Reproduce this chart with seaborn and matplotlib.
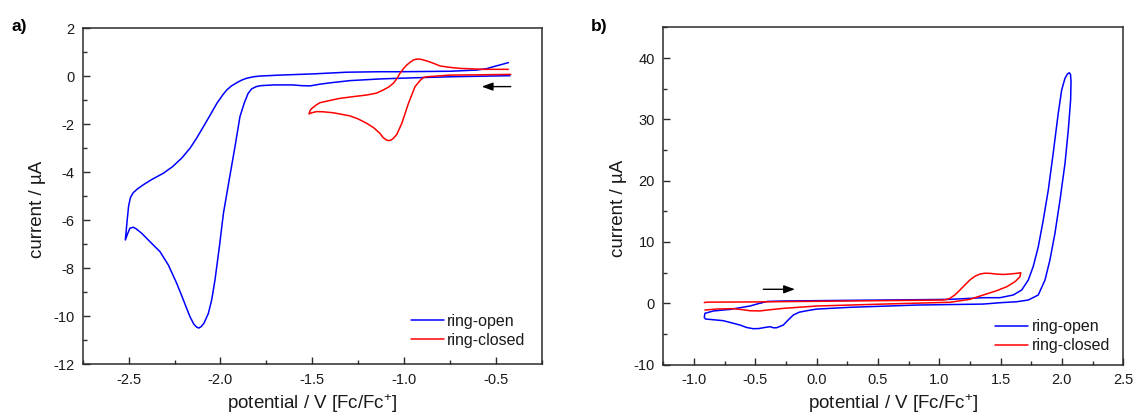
import numpy as np
import pandas as pd
import matplotlib
matplotlib.use("Agg")
import matplotlib.pyplot as plt
from matplotlib.ticker import MultipleLocator, FormatStrFormatter
import seaborn as sns

# ---------------- data: panel a ----------------
a_open_x = [-0.424, -0.60, -0.75, -1.02, -1.13, -1.295, -1.40, -1.46, -1.512, -1.56, -1.604, -1.712,
            -1.78, -1.805, -1.83, -1.85, -1.87, -1.894, -1.921, -1.95, -1.968, -1.984, -2.006, -2.03,
            -2.048, -2.066, -2.09, -2.105, -2.118, -2.13, -2.145, -2.166, -2.202, -2.238, -2.284,
            -2.329, -2.384, -2.429, -2.46, -2.475, -2.493, -2.505, -2.518, -2.514, -2.508, -2.50,
            -2.49, -2.475, -2.45, -2.42, -2.374, -2.311, -2.26, -2.21, -2.166, -2.13, -2.093, -2.055,
            -2.02, -1.99, -1.966, -1.94, -1.912, -1.885, -1.857, -1.82, -1.785, -1.676, -1.495,
            -1.313, -1.132, -1.023, -0.75, -0.605, -0.55, -0.515, -0.475, -0.433]
a_open_y = [0.025, 0.0, -0.02, -0.08, -0.11, -0.18, -0.27, -0.33, -0.40, -0.39, -0.36, -0.36,
            -0.39, -0.43, -0.52, -0.72, -1.10, -1.68, -2.93, -4.2, -5.0, -5.71, -7.1, -8.49,
            -9.32, -9.88, -10.29, -10.43, -10.49, -10.45, -10.33, -10.02, -9.32, -8.63, -7.86,
            -7.31, -6.89, -6.54, -6.35, -6.29, -6.33, -6.55, -6.82, -6.5, -6.0, -5.4,
            -5.05, -4.85, -4.68, -4.52, -4.30, -4.04, -3.76, -3.40, -3.0, -2.58, -2.1, -1.60,
            -1.13, -0.80, -0.57, -0.40, -0.27, -0.16, -0.08, -0.02, 0.01, 0.05, 0.10,
            0.17, 0.19, 0.19, 0.21, 0.26, 0.32, 0.40, 0.48, 0.57]

a_closed_x = [-0.42, -0.60, -0.75, -0.877, -0.895, -0.912, -0.941, -0.977, -1.013, -1.04, -1.058,
              -1.072, -1.085, -1.098, -1.115, -1.132, -1.165, -1.204, -1.25, -1.295, -1.386, -1.44,
              -1.476, -1.503, -1.518, -1.512, -1.50, -1.48, -1.458, -1.40, -1.35, -1.28, -1.204,
              -1.15, -1.114, -1.085, -1.059, -1.04, -1.023, -1.005, -0.986, -0.965, -0.95, -0.935,
              -0.923, -0.905, -0.877, -0.84, -0.805, -0.75, -0.696, -0.569, -0.433]
a_closed_y = [0.08, 0.06, 0.05, -0.02, -0.05, -0.16, -0.43, -1.13, -1.96, -2.42, -2.58,
              -2.66, -2.68, -2.65, -2.55, -2.38, -2.15, -1.96, -1.78, -1.65, -1.52, -1.48,
              -1.47, -1.52, -1.57, -1.42, -1.32, -1.20, -1.10, -1.0, -0.92, -0.85, -0.78,
              -0.70, -0.57, -0.45, -0.29, -0.10, 0.125, 0.31, 0.47, 0.60, 0.68, 0.71,
              0.72, 0.70, 0.64, 0.54, 0.43, 0.37, 0.33, 0.29, 0.29]

# ---------------- data: panel b ----------------
b_open_x = [-0.447, -0.40, -0.271, 0.272, 0.80, 1.087, 1.359, 1.495, 1.603, 1.672, 1.726, 1.766, 1.807,
            1.848, 1.889, 1.929, 1.97, 1.998, 2.025, 2.045, 2.06, 2.07, 2.074, 2.071, 2.052, 2.025,
            1.984, 1.943, 1.902, 1.862, 1.807, 1.726, 1.631, 1.495, 1.359, 0.816, 0.272, 0.0,
            -0.08, -0.14, -0.19, -0.24, -0.271, -0.325, -0.35, -0.38, -0.434, -0.47, -0.516,
            -0.57, -0.624, -0.76, -0.86, -0.905, -0.915, -0.91, -0.842, -0.706, -0.543, -0.49,
            -0.447]
b_open_y = [0.09, 0.30, 0.37, 0.48, 0.58, 0.64, 0.91, 0.91, 1.35, 2.16, 3.8, 6.0, 9.2,
            13.6, 18.5, 24.5, 31.0, 34.8, 36.7, 37.4, 37.6, 37.3, 36.2, 33.2, 28.3, 22.8,
            16.8, 11.4, 7.05, 3.8, 1.35, 0.53, 0.25, 0.09, -0.13, -0.29, -0.66, -0.95,
            -1.22, -1.45, -1.92, -2.9, -3.55, -3.99, -4.0, -3.82, -3.99, -4.12, -4.15,
            -3.95, -3.55, -2.84, -2.65, -2.57, -2.30, -1.64, -1.26, -1.0, -0.45, -0.15,
            0.09]

b_closed_x = [-0.915, -0.90, -0.50, 0.0, 0.50, 1.033, 1.06, 1.087, 1.13, 1.169, 1.21, 1.25, 1.29,
              1.332, 1.37, 1.413, 1.47, 1.522, 1.58, 1.631, 1.664, 1.658, 1.617, 1.55, 1.468,
              1.359, 1.25, 1.087, 0.544, 0.0, -0.271, -0.40, -0.461, -0.543, -0.60, -0.679,
              -0.814, -0.91]
b_closed_y = [0.10, 0.18, 0.22, 0.32, 0.42, 0.53, 0.62, 0.80, 1.40, 2.16, 3.0, 3.8, 4.40,
              4.77, 4.90, 4.88, 4.75, 4.70, 4.78, 4.88, 4.98, 4.33, 3.51, 2.70, 2.05,
              1.35, 0.64, 0.16, -0.13, -0.45, -0.83, -1.10, -1.25, -1.22, -1.05, -0.88,
              -0.94, -1.10]

series_names = ["ring-open", "ring-closed"]
series_colors = ["#0000ff", "#ff0000"]

x_label = "potential / V [Fc/Fc$^{+}$]"
y_label = "current / \u00b5A"
panel_letters = ["a)", "b)"]

# scan-direction arrows (tail x, head x, y) in data units
arrow_a = (-0.42, -0.578, -0.43)
arrow_b = (-0.434, -0.176, 2.28)

# ---------------- style ----------------
sns.set_style("ticks")
plt.rcParams["font.family"] = ["Liberation Sans", "DejaVu Sans"]
plt.rcParams["mathtext.fontset"] = "custom"
plt.rcParams["mathtext.rm"] = "Liberation Sans"
plt.rcParams["mathtext.it"] = "Liberation Sans:italic"
plt.rcParams["mathtext.bf"] = "Liberation Sans:bold"
text_color = "#1a1a1a"
spine_color = "#2b2b2b"

fig = plt.figure(figsize=(11.36, 4.16), dpi=100)
ax_a = fig.add_axes([0.0728, 0.1243, 0.4043, 0.8077])
ax_b = fig.add_axes([0.5838, 0.1236, 0.4050, 0.8106])

palette = dict(zip(series_names, series_colors))


def make_df(ox, oy, cx, cy):
    return pd.concat([
        pd.DataFrame({"potential": ox, "current": oy, "sample": series_names[0]}),
        pd.DataFrame({"potential": cx, "current": cy, "sample": series_names[1]}),
    ], ignore_index=True)


df_a = make_df(a_open_x, a_open_y, a_closed_x, a_closed_y)
df_b = make_df(b_open_x, b_open_y, b_closed_x, b_closed_y)

for ax, df in [(ax_a, df_a), (ax_b, df_b)]:
    sns.lineplot(data=df, x="potential", y="current", hue="sample", hue_order=series_names,
                 palette=palette, sort=False, estimator=None, lw=1.1, ax=ax)
    for ln in ax.get_lines():
        ln.set_solid_joinstyle("round")

ax_a.set_xlim(-2.75, -0.25)
ax_a.set_ylim(-12, 2)
ax_a.xaxis.set_major_locator(MultipleLocator(0.5))
ax_a.xaxis.set_minor_locator(MultipleLocator(0.25))
ax_a.yaxis.set_major_locator(MultipleLocator(2))
ax_a.yaxis.set_minor_locator(MultipleLocator(1))

ax_b.set_xlim(-1.25, 2.5)
ax_b.set_ylim(-10, 45)
ax_b.xaxis.set_major_locator(MultipleLocator(0.5))
ax_b.xaxis.set_minor_locator(MultipleLocator(0.25))
ax_b.yaxis.set_major_locator(MultipleLocator(10))
ax_b.yaxis.set_minor_locator(MultipleLocator(5))

legend_anchor = {0: (0.982, 0.025), 1: (0.988, 0.010)}
for i, ax in enumerate([ax_a, ax_b]):
    for s in ax.spines.values():
        s.set_visible(True)
        s.set_color(spine_color)
        s.set_linewidth(1.1)
    ax.tick_params(which="both", direction="in", top=False, right=False,
                   colors=spine_color, labelcolor=text_color, labelsize=10.5, pad=6)
    ax.tick_params(which="major", length=5, width=1.0)
    ax.tick_params(which="minor", length=3, width=1.0)
    ax.xaxis.set_major_formatter(FormatStrFormatter("%.1f"))
    ax.yaxis.set_major_formatter(FormatStrFormatter("%d"))
    ax.set_xlabel(x_label, fontsize=13.5, color=text_color)
    ax.set_ylabel(y_label, fontsize=13.5, color=text_color)
    ax.xaxis.set_label_coords(0.5, -0.082)
    ax.yaxis.set_label_coords(-0.079, 0.462)
    leg = ax.legend(loc="lower right", bbox_to_anchor=legend_anchor[i], frameon=False,
                    borderpad=0, handlelength=2.1, handletextpad=0.2, labelspacing=0.25,
                    fontsize=11.5)
    for t in leg.get_texts():
        t.set_color(text_color)

for ax, (x0, x1, y) in [(ax_a, arrow_a), (ax_b, arrow_b)]:
    ax.annotate("", xy=(x1, y), xytext=(x0, y),
                arrowprops=dict(arrowstyle="-|>,head_length=0.6,head_width=0.22", color="black",
                                lw=1.0, mutation_scale=11, shrinkA=0, shrinkB=0))

fig.text(11 / 1136, 1 - 27 / 416, panel_letters[0], fontsize=12.5, fontweight="bold",
         va="center", ha="left", color="black")
fig.text(591 / 1136, 1 - 27 / 416, panel_letters[1], fontsize=12.5, fontweight="bold",
         va="center", ha="left", color="black")

fig.savefig("out.png", dpi=100)
